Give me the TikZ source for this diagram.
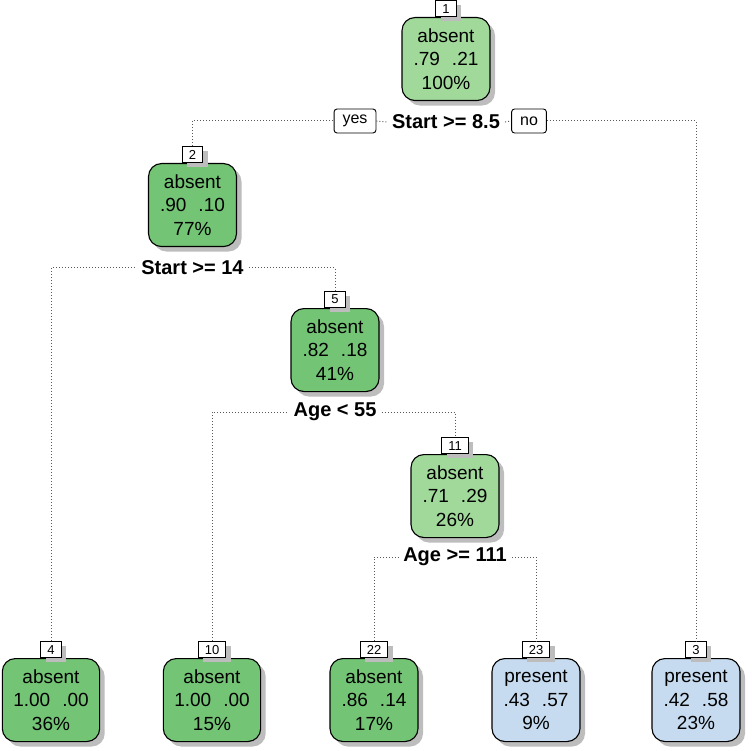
\documentclass[tikz,border=0pt]{standalone}
\usepackage{fontspec}
\setmainfont{Liberation Sans}
\usetikzlibrary{shadows}
\definecolor{gdark}{HTML}{74C476}
\definecolor{glight}{HTML}{A1D99B}
\definecolor{bpres}{HTML}{C6DBEF}
\definecolor{shad}{gray}{0.74}
\definecolor{dotc}{gray}{0.35}
\newcommand{\pp}[2]{#1\hspace{12pt}#2}
\tikzset{
  tnode/.style={draw=black, line width=1.1pt, rounded corners=13pt,
    minimum height=83pt, minimum width=88pt, inner xsep=11pt, inner ysep=0pt,
    align=center, anchor=north, font=\fontsize{19}{23.5}\selectfont,
    drop shadow={shadow xshift=5pt, shadow yshift=-5pt, fill=shad, opacity=1}},
  numlab/.style={draw=black, fill=white, line width=0.9pt, minimum height=16pt,
    minimum width=19pt, inner xsep=6.5pt, inner ysep=0pt, anchor=south,
    font=\fontsize{13}{13}\selectfont,
    drop shadow={shadow xshift=5pt, shadow yshift=-4pt, fill=shad, opacity=1}},
  splitlab/.style={font=\bfseries\fontsize{20}{20}\selectfont, inner xsep=5pt, inner ysep=2pt},
  ynbox/.style={draw=black, line width=0.9pt, rounded corners=3pt, minimum height=24pt,
    inner xsep=8.5pt, inner ysep=0pt, font=\fontsize{16}{16}\selectfont, fill=white},
  dotline/.style={draw=dotc, line width=1pt, dash pattern=on 1pt off 2pt}
}
\begin{document}
\begin{tikzpicture}[x=1pt, y=-1pt]
\useasboundingbox (0,0) rectangle (752,751);
% nodes
\node[tnode, fill=glight] (n1) at (446,17) {absent\\\pp{.79}{.21}\\100\%};
\node[numlab] (l1) at (n1.north) {1};
\node[tnode, fill=gdark] (n2) at (192.5,163) {absent\\\pp{.90}{.10}\\77\%};
\node[numlab] (l2) at (n2.north) {2};
\node[tnode, fill=gdark] (n5) at (335,308) {absent\\\pp{.82}{.18}\\41\%};
\node[numlab] (l5) at (n5.north) {5};
\node[tnode, fill=glight] (n11) at (455,454) {absent\\\pp{.71}{.29}\\26\%};
\node[numlab] (l11) at (n11.north) {11};
\node[tnode, fill=gdark] (n4) at (51,658) {absent\\\pp{1.00}{.00}\\36\%};
\node[numlab] (l4) at (n4.north) {4};
\node[tnode, fill=gdark] (n10) at (212,658) {absent\\\pp{1.00}{.00}\\15\%};
\node[numlab] (l10) at (n10.north) {10};
\node[tnode, fill=gdark] (n22) at (374,658) {absent\\\pp{.86}{.14}\\17\%};
\node[numlab] (l22) at (n22.north) {22};
\node[tnode, fill=bpres] (n23) at (536,658) {present\\\pp{.43}{.57}\\9\%};
\node[numlab] (l23) at (n23.north) {23};
\node[tnode, fill=bpres] (n3) at (696,658) {present\\\pp{.42}{.58}\\23\%};
\node[numlab] (l3) at (n3.north) {3};
% split labels
\node[splitlab] (s1) at (446,122) {Start >= 8.5};
\node[ynbox] (yes) at (355,121) {yes};
\node[ynbox] (no) at (529,121) {no};
\node[splitlab] (s2) at (192.5,268) {Start >= 14};
\node[splitlab] (s5) at (335,412) {Age < 55};
\node[splitlab] (s11) at (455,557) {Age >= 111};
% connectors
\draw[dotline] (l2.north) |- (yes.west);
\draw[dotline] (yes.east) -- (s1.west);
\draw[dotline] (s1.east) -- (no.west);
\draw[dotline] (no.east) -| (l3.north);
\draw[dotline] (l4.north) |- (s2.west);
\draw[dotline] (s2.east) -| (l5.north);
\draw[dotline] (l10.north) |- (s5.west);
\draw[dotline] (s5.east) -| (l11.north);
\draw[dotline] (l22.north) |- (s11.west);
\draw[dotline] (s11.east) -| (l23.north);
\end{tikzpicture}
\end{document}
